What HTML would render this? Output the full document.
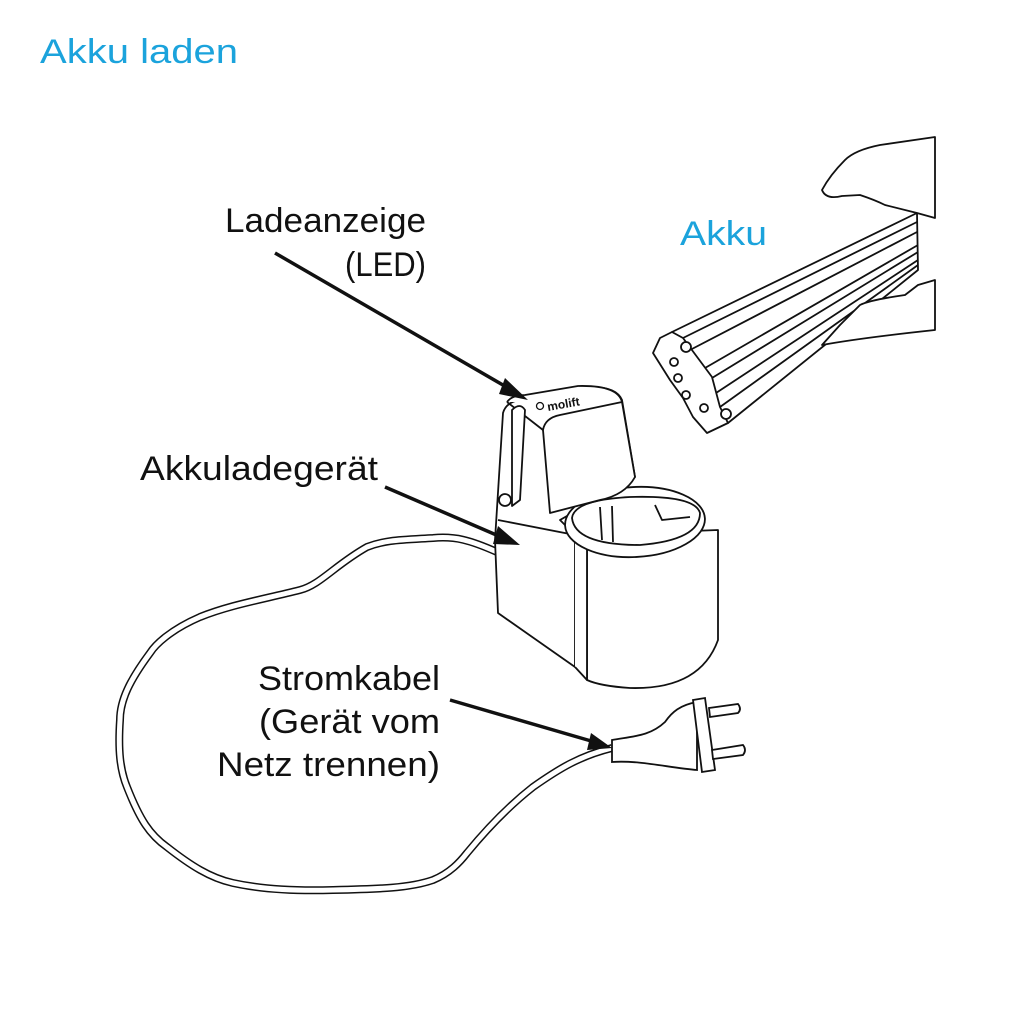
<!DOCTYPE html>
<html><head><meta charset="utf-8"><style>
html,body{margin:0;padding:0;background:#fff}
svg{display:block}
text{font-family:"Liberation Sans","DejaVu Sans",sans-serif}
</style></head><body>
<svg width="1024" height="1024" viewBox="0 0 1024 1024" xmlns="http://www.w3.org/2000/svg">
<rect width="1024" height="1024" fill="#fff"/>
<text x="40" y="63" font-size="34" fill="#1ba3dc" textLength="198" lengthAdjust="spacingAndGlyphs">Akku laden</text>
<g font-size="34" fill="#111">
<text x="225" y="232" textLength="201" lengthAdjust="spacingAndGlyphs">Ladeanzeige</text>
<text x="345" y="276" textLength="81" lengthAdjust="spacingAndGlyphs">(LED)</text>
<text x="140" y="480" textLength="238" lengthAdjust="spacingAndGlyphs">Akkuladegerät</text>
<text x="258" y="690" textLength="182" lengthAdjust="spacingAndGlyphs">Stromkabel</text>
<text x="259" y="733" textLength="181" lengthAdjust="spacingAndGlyphs">(Gerät vom</text>
<text x="217" y="776" textLength="223" lengthAdjust="spacingAndGlyphs">Netz trennen)</text>
</g>
<text x="680" y="245" font-size="34" fill="#1ba3dc" textLength="87" lengthAdjust="spacingAndGlyphs">Akku</text>

<!-- cable -->
<path id="c" d="M497,552 C470,540 455,536 433,538 C400,540 385,540 367,547 C335,565 320,585 300,590 C260,600 230,605 200,617 C170,630 155,645 150,653 C130,680 120,700 120,720 C118,750 120,770 127,787 C140,820 150,835 167,847 C190,865 210,878 233,883 C265,890 300,891 333,890 C380,889 410,888 433,880 C450,873 460,862 467,853 C490,825 510,805 533,787 C560,768 580,756 612,748" fill="none" stroke="#111" stroke-width="8"/>
<path d="M497,552 C470,540 455,536 433,538 C400,540 385,540 367,547 C335,565 320,585 300,590 C260,600 230,605 200,617 C170,630 155,645 150,653 C130,680 120,700 120,720 C118,750 120,770 127,787 C140,820 150,835 167,847 C190,865 210,878 233,883 C265,890 300,891 333,890 C380,889 410,888 433,880 C450,873 460,862 467,853 C490,825 510,805 533,787 C560,768 580,756 612,748" fill="none" stroke="#fff" stroke-width="5"/>

<!-- plug -->
<g fill="#fff" stroke="#111" stroke-width="1.8">
<path d="M612,740 L612,762 C640,760 670,768 697,770 L697,702 C680,705 672,712 665,722 C650,736 635,736 612,740 Z"/>
<path d="M693,700 L705,698 L715,770 L702,772 Z"/>
<path d="M709,708 L738,704 Q742,709 738,713 L710,717 Z"/>
<path d="M712,750 L743,745 Q747,750 743,755 L713,759 Z"/>
</g>

<!-- charger -->
<g fill="#fff" stroke="#111" stroke-width="1.8" stroke-linejoin="round">
<!-- tower + base left -->
<path d="M503,413 Q506,402 520,400 L580,388 Q615,384 622,400 L635,477 L560,520 L575,535 L575,667 L498,613 L495,540 Z"/>
<path d="M498,520 L575,535"/>
<!-- cylinder -->
<path d="M587,535 L718,530 L718,640 Q700,690 630,688 Q600,686 587,680 Z"/>
<path d="M575,535 L587,535 L587,680 L575,667"/>
<ellipse cx="635" cy="522" rx="70" ry="35" transform="rotate(-3 635 522)"/>
<path d="M572,518 Q574,500 630,497 Q695,495 700,513 Q700,540 640,545 Q575,545 572,518 Z"/>
<path d="M600,507 L602,540 M612,506 L613,542 M655,505 L662,520 L690,517"/>
<!-- cap -->
<path d="M507,402 Q512,395 525,395 L578,386 Q618,385 622,402 L635,477 Q625,495 600,500 L550,513 L543,430 Q545,418 560,415 L622,402"/>
<path d="M507,402 L543,430"/>
<path d="M512,410 Q520,402 525,410 L520,500 L512,506 Z"/>
<circle cx="505" cy="500" r="6"/>
</g>
<circle cx="540" cy="406" r="3.5" fill="none" stroke="#111" stroke-width="1.3"/>
<text x="548" y="411" font-size="12" font-weight="bold" fill="#111" transform="rotate(-10 548 411)">molift</text>

<!-- battery -->
<g fill="#fff" stroke="#111" stroke-width="1.8" stroke-linejoin="round">
<path d="M672,332 L917,213 L918,270 L728,423 Z"/>
<path d="M683,338 L917,222 M690,350 L917,232 M705,368 L918,245 M712,378 L918,252 M716,393 L918,260 M720,407 L918,265"/>
<path d="M653,353 L660,338 L672,332 L683,338 L712,377 L720,407 L728,423 L707,433 L693,417 L683,398 L670,380 Z"/>
<circle cx="686" cy="347" r="5"/><circle cx="674" cy="362" r="4"/><circle cx="678" cy="378" r="4"/><circle cx="686" cy="395" r="4"/><circle cx="704" cy="408" r="4"/><circle cx="726" cy="414" r="5"/>
<!-- hand -->
<path d="M935,137 L880,145 Q855,150 845,160 Q830,175 822,190 Q826,200 842,196 L860,195 Q875,200 885,205 L917,213 L935,218 Z"/>
<path d="M935,280 L918,285 L905,295 Q870,300 860,305 L840,325 L822,345 Q860,338 935,330 Z"/>
</g>

<!-- arrows -->
<g stroke="#111" stroke-width="3.5" fill="#111">
<line x1="275" y1="253" x2="515" y2="392"/>
<polygon points="528,400 505,378 499,394" stroke="none"/>
<line x1="385" y1="487" x2="508" y2="540"/>
<polygon points="520,545 498,526 493,544" stroke="none"/>
<line x1="450" y1="700" x2="598" y2="743"/>
<polygon points="612,748 591,733 587,750" stroke="none"/>
</g>
</svg>
</body></html>
